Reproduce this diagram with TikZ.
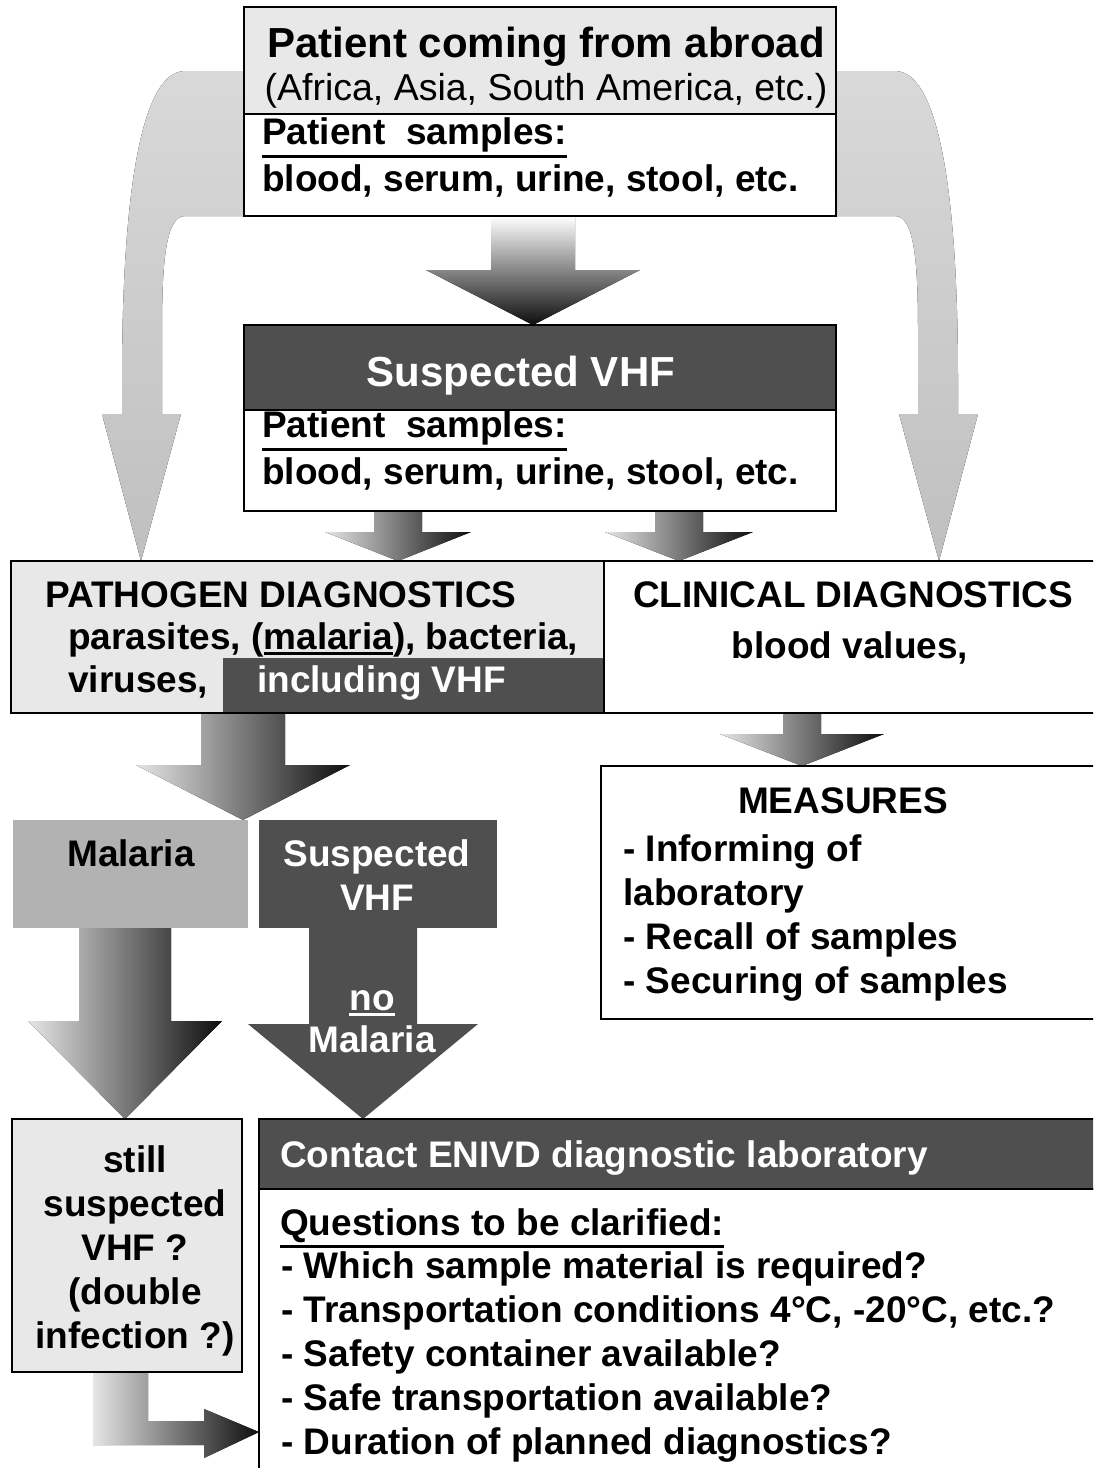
\documentclass[tikz,border=0pt]{standalone}
\usepackage{fontspec}
\setmainfont{Liberation Sans}
\usetikzlibrary{calc,backgrounds}

\definecolor{lightfill}{HTML}{E8E8E8}
\definecolor{midfill}{HTML}{B2B2B2}
\definecolor{darkfill}{HTML}{4F4F4F}

\newcommand{\bodyfont}{\fontsize{37}{44}\selectfont\bfseries}
\newcommand{\titlefont}{\fontsize{42}{47}\selectfont\bfseries}
\newcommand{\ulined}[1]{\setbox0\hbox{#1}\rlap{\rule[\dimexpr-\dp0-6pt\relax]{\wd0}{3pt}}\box0}

% block arrow pointing down: style, x, half shaft, half head, head length, from, to
\newcommand{\blockdown}[7]{%
  \fill[#1] (#2-#3,0 |- #6) -- ($(#2-#3,0 |- #7)+(0,-#5)$) -- ($(#2-#4,0 |- #7)+(0,-#5)$)
    -- (#2,0 |- #7) -- ($(#2+#4,0 |- #7)+(0,-#5)$) -- ($(#2+#3,0 |- #7)+(0,-#5)$)
    -- (#2+#3,0 |- #6) -- cycle;}

\begin{document}
\begin{tikzpicture}[
    x=1pt, y=-1pt,
    box/.style={draw,line width=1.8pt,anchor=north west,inner sep=0pt,outer sep=0pt},
    txt/.style={font=\bodyfont,inner sep=0pt},
    wtxt/.style={txt,text=white},
    bigarrow/.style={top color=black!15,bottom color=black!25},
    hshade/.style={left color=black!10,right color=black!95},
    vshade/.style={top color=white,bottom color=black!95}
    ]

    \useasboundingbox (0,0) rectangle (1093,1468);
    \clip (0,0) rectangle (1093,1468);

    % top boxes:
    \node[box,fill=lightfill,minimum width=592pt,minimum height=107pt] (abroad) at (244,7) {};
    \node[box,minimum width=592pt,minimum height=102pt] (samples1) at (244,114) {};
    \node[box,fill=darkfill,minimum width=592pt,minimum height=85pt] (vhf) at (244,325) {};
    \node[box,minimum width=592pt,minimum height=101pt] (samples2) at (244,410) {};

    \node[txt,font=\titlefont,anchor=base] (abroadtitle) at (546,57) {Patient coming from abroad};
    \node[txt,font={\fontsize{37.5}{44}\selectfont},anchor=base] (abroadregion) at (546,100) {(Africa, Asia, South America, etc.)};
    \node[wtxt,font=\titlefont,anchor=base] (vhftitle) at (521,386) {Suspected VHF};

    \foreach \s/\y in {1/144,2/437} {
      \node[txt,anchor=base west] (sampleshead\s) at (262,\y) {\ulined{Patient~~samples:}};
      \node[txt,anchor=base west] (sampleslist\s) at (262,\y+47) {blood, serum, urine, stool, etc.};
    }

    % diagnostics row:
    \node[box,fill=lightfill,minimum width=593pt,minimum height=152pt] (pathogen) at (11,561) {};
    \node[box,draw=none,fill=darkfill,minimum width=380pt,minimum height=54pt] (incl) at (223,658) {};
    \node[box,minimum width=500pt,minimum height=152pt] (clinical) at (604,561) {};

    \node[txt,anchor=base west] (pathtitle) at (45,607) {PATHOGEN DIAGNOSTICS};
    \node[txt,anchor=base west] (pathlist) at (68,649) {parasites, (\ulined{malaria}), bacteria,};
    \node[txt,anchor=base west] (pathviruses) at (68,692) {viruses,};
    \node[wtxt,anchor=base west] (incltxt) at (257,692) {including VHF};
    \node[txt,anchor=base] (clintitle) at (853,607) {CLINICAL DIAGNOSTICS};
    \node[txt,anchor=base] (clinblood) at (850,658) {blood values,};

    % measures:
    \node[box,minimum width=499pt,minimum height=253pt] (measures) at (601,766) {};
    \node[txt,anchor=base] (meastitle) at (843,813) {MEASURES};
    \foreach \t [count=\i] in {- Informing of,laboratory,- Recall of samples,- Securing of samples}
    \node[txt,anchor=base west] (meas\i) at (623,817+44*\i) {\t};

    % malaria or VHF:
    \node[box,draw=none,fill=midfill,minimum width=235pt,minimum height=108pt] (malaria) at (13,820) {};
    \node[box,draw=none,fill=darkfill,minimum width=238pt,minimum height=108pt] (smallvhf) at (259,820) {};
    \node[txt,anchor=base] (malariatxt) at (131,866) {Malaria};
    \node[wtxt,anchor=base] (smallvhf1) at (377,866) {Suspected};
    \node[wtxt,anchor=base] (smallvhf2) at (377,910) {VHF};
    \node[wtxt,anchor=base] (nomal1) at (372,1010) {\ulined{no}};
    \node[wtxt,anchor=base] (nomal2) at (372,1052) {Malaria};

    % bottom boxes:
    \node[box,fill=lightfill,minimum width=230pt,minimum height=253pt] (still) at (12,1119) {};
    \node[box,fill=darkfill,minimum width=841pt,minimum height=70pt] (contact) at (259,1119) {};
    \node[box,minimum width=841pt,minimum height=290pt] (questions) at (259,1189) {};

    \foreach \t [count=\i] in {{still},{suspected},{VHF ?},{(double},{infection ?)}}
    \node[txt,anchor=base] (still\i) at (135,1128+44*\i) {\t};

    \node[wtxt,anchor=base west] (contacttxt) at (280,1167) {Contact ENIVD diagnostic laboratory};
    \node[txt,anchor=base west] (qhead) at (280,1235) {\ulined{Questions to be clarified:}};
    \foreach \t [count=\i] in {- Which sample material is required?,
        {- Transportation conditions 4°C, -20°C, etc.?},
        - Safety container available?,
        - Safe transportation available?,
        - Duration of planned diagnostics?}
    \node[txt,anchor=base west] (q\i) at (281,1235+43.8*\i) {\t};

    % arrows:
    \begin{scope}[on background layer]
      \fill[bigarrow] (abroad.west |- 0,71) -- (185,71) .. controls (140,71) and (122,200) .. (122,380)
        -- (122,414) -- (102,414) -- (141,0 |- pathogen.north) -- (181,414) -- (162,414) -- (162,330)
        .. controls (162,260) and (166,216) .. (185,216) -- (samples1.south west) -- cycle;
      \fill[bigarrow] (abroad.east |- 0,71) -- (895,71) .. controls (940,71) and (958,200) .. (958,380)
        -- (958,414) -- (978,414) -- (939,0 |- clinical.north) -- (899,414) -- (918,414) -- (918,330)
        .. controls (918,260) and (914,216) .. (895,216) -- (samples1.south east) -- cycle;

      \blockdown{vshade}{533}{42}{107}{55}{samples1.south}{vhf.north}
      \blockdown{hshade}{398}{24}{73}{29}{samples2.south}{pathogen.north}
      \blockdown{hshade}{679}{24}{74}{29}{samples2.south}{clinical.north}
      \blockdown{hshade}{243}{42}{107}{55}{pathogen.south}{malaria.north}
      \blockdown{hshade}{125}{46}{97}{98}{malaria.south}{still.north}
      \blockdown{fill=darkfill}{363}{54}{115}{95}{smallvhf.south}{contact.north}
      \blockdown{hshade}{802}{19}{82}{32}{clinical.south}{measures.north}

      \fill[hshade] (93,0 |- still.south) -- (93,1445) -- (204,1445) -- (204,1458)
        -- (questions.west |- 0,1432) -- (204,1409) -- (204,1421) -- (148,1421)
        -- (148,0 |- still.south) -- cycle;
    \end{scope}

\end{tikzpicture}
\end{document}
